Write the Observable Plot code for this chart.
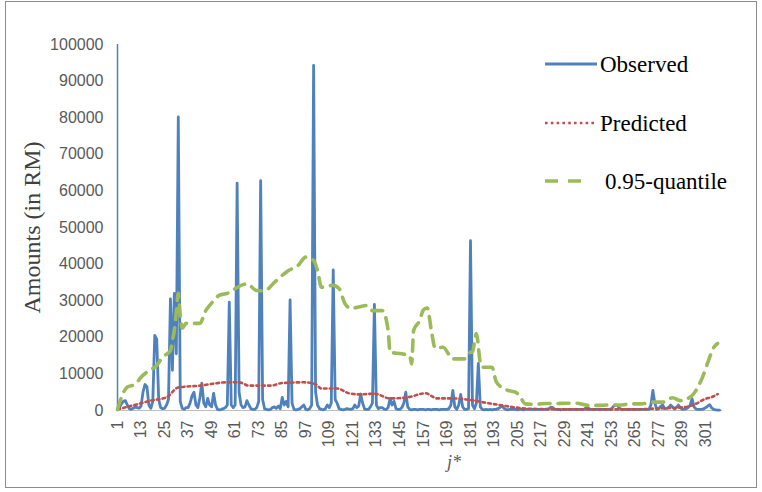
<!DOCTYPE html>
<html><head><meta charset="utf-8">
<script src="https://cdn.jsdelivr.net/npm/d3@7"></script>
<script src="https://cdn.jsdelivr.net/npm/@observablehq/plot@0.6"></script>
<style>
html,body{margin:0;padding:0;background:#fff;}
#wrap{position:relative;width:762px;height:492px;overflow:hidden;background:#fff;}
#frame{position:absolute;left:5px;top:1px;width:752px;height:487px;border:1px solid #8c8c8c;box-sizing:border-box;pointer-events:none;}
#legend{position:absolute;left:0;top:0;}
</style></head><body>
<div id="wrap"><div id="chart"></div><svg id="legend" width="762" height="492"></svg><div id="frame"></div></div>
<script>
const xTicks = [1,13,25,37,49,61,73,85,97,109,121,133,145,157,169,181,193,205,217,229,241,253,265,277,289,301];
const yTicks = [0,10000,20000,30000,40000,50000,60000,70000,80000,90000,100000];
const seriesNames = ["Observed", "Predicted", "0.95-quantile"];

// Observed, j* = 1..308
const observed = [
  200, 800, 1800, 2500, 2700, 1500, 500, 300, 600, 1000, 800, 600,
  1200, 5000, 7100, 6500, 1500, 600, 2500, 20500, 19500, 3000, 800, 500,
  600, 1500, 3000, 30500, 11000, 32000, 15500, 80200, 2500, 600, 300, 800,
  800, 2000, 4000, 5000, 1500, 800, 3500, 7500, 2000, 1000, 3300, 1500,
  1000, 4700, 1500, 300, 200, 300, 500, 800, 1500, 29600, 1500, 800,
  1500, 62100, 5000, 1500, 800, 1000, 2700, 1500, 500, 300, 300, 800,
  2500, 62800, 3000, 500, 300, 200, 300, 800, 1000, 600, 1200, 500,
  3600, 1500, 2500, 1000, 30200, 2000, 300, 200, 300, 500, 1000, 1500,
  300, 200, 500, 1500, 94300, 5000, 1500, 500, 300, 200, 500, 1500,
  800, 2000, 38400, 3000, 2000, 500, 300, 200, 300, 500, 400, 300,
  500, 1500, 800, 1200, 4500, 2000, 400, 300, 300, 1000, 2000, 29000,
  1500, 500, 800, 800, 400, 300, 800, 3300, 1500, 2500, 500, 300,
  300, 800, 2000, 5000, 1000, 300, 200, 300, 300, 200, 300, 300,
  300, 200, 300, 300, 200, 300, 300, 300, 200, 300, 300, 300,
  300, 500, 1500, 5500, 1000, 300, 1500, 4400, 1000, 300, 300, 500,
  46400, 1500, 500, 2000, 12900, 1000, 300, 200, 300, 200, 300, 200,
  300, 300, 500, 800, 1400, 600, 300, 200, 300, 300, 300, 300,
  200, 300, 300, 200, 300, 300, 300, 300, 300, 300, 300, 300,
  300, 300, 300, 300, 500, 900, 800, 300, 300, 300, 200, 300,
  300, 300, 300, 300, 300, 300, 300, 300, 300, 300, 400, 800,
  700, 300, 300, 300, 300, 300, 300, 300, 300, 300, 300, 300,
  500, 1200, 1500, 1300, 600, 300, 300, 300, 300, 300, 300, 300,
  300, 300, 300, 300, 300, 300, 300, 300, 1500, 5500, 2000, 300,
  500, 1200, 1500, 500, 600, 800, 1500, 1000, 400, 800, 1500, 800,
  300, 400, 500, 800, 1500, 3200, 1000, 400, 300, 300, 300, 500,
  800, 1200, 1600, 700, 300, 200, 100, 100
];

// Predicted (read at these j*)
const predJ   = [1, 9, 18, 26, 32, 43, 57, 63, 68, 79, 85, 96, 102, 105, 113, 119, 125, 132, 140, 149, 158, 164, 172, 179, 189, 198, 203, 210, 232, 266, 274, 290, 295, 300, 305, 307];
const predVal = [300, 1400, 2700, 3600, 6300, 6800, 7700, 7700, 6800, 6800, 7500, 7700, 7200, 6000, 6000, 4700, 4400, 4600, 3300, 3600, 4700, 3300, 3300, 3000, 2100, 1300, 900, 500, 300, 300, 500, 900, 1600, 3000, 3900, 4500];

// 0.95-quantile (read at these j*)
const qJ   = [1, 3, 6, 10, 13, 17, 21, 24, 28, 29, 30, 31, 32, 33, 34, 36, 43, 46, 48, 53, 57, 64, 67, 72, 76, 81, 88, 93, 97, 101, 103, 105, 111, 114, 117, 120, 128, 131, 136, 139, 140, 146, 150, 151, 152, 155, 157, 159, 161, 163, 167, 172, 178, 181, 182, 184, 186, 187, 192, 194, 197, 200, 204, 206, 209, 214, 219, 224, 230, 235, 241, 246, 251, 257, 263, 268, 274, 279, 284, 288, 294, 296, 299, 302, 305, 307];
const qVal = [300, 3600, 6400, 7100, 9100, 10900, 12300, 14600, 16400, 19100, 22000, 26900, 32000, 26000, 22500, 23800, 23800, 27300, 28700, 31500, 32000, 34200, 34600, 32800, 32700, 35000, 38200, 39600, 41900, 41000, 38200, 33700, 34200, 33300, 29200, 27900, 28700, 27300, 27300, 21900, 15900, 15500, 15000, 12700, 21900, 24500, 27500, 28000, 22000, 17000, 17300, 14100, 14100, 15900, 16000, 21000, 13000, 11800, 11800, 8000, 6300, 5500, 5000, 4000, 1800, 1700, 1900, 1900, 2000, 2000, 1400, 1400, 1500, 1500, 1800, 1800, 2300, 2300, 3500, 2700, 4100, 5500, 8700, 13100, 17200, 18300];

const colors = ["#4F81BD", "#C0504D", "#9BBB59"];

const obsData = observed.map((v, k) => ({j: k + 1, v}));
const predData = predJ.map((j, k) => ({j, v: predVal[k]}));
const qData = qJ.map((j, k) => ({j, v: qVal[k]}));

const chart = Plot.plot({
  width: 762, height: 492,
  marginLeft: 117, marginRight: 40, marginTop: 44, marginBottom: 82,
  x: {domain: [1, 309.5], axis: null},
  y: {domain: [0, 100000], axis: null},
  style: {fontFamily: "Liberation Sans, Arial, sans-serif", fontSize: "16px", color: "#595959", background: "transparent"},
  marks: [
    Plot.axisY({ticks: yTicks, tickSize: 0, tickPadding: 14, label: null, tickFormat: d => String(d), fontSize: 16}),
    Plot.axisX({ticks: xTicks, tickSize: 0, tickPadding: 10, tickRotate: -90, label: null, tickFormat: d => String(d), fontSize: 16}),
    Plot.ruleY([0], {stroke: "#BFBFBF", strokeWidth: 1}),
    Plot.ruleX([1], {stroke: colors[0], strokeWidth: 1.5}),
    Plot.lineY(obsData, {x: "j", y: "v", stroke: colors[0], strokeWidth: 2.8, strokeLinejoin: "round"}),
    Plot.lineY(predData, {x: "j", y: "v", stroke: colors[1], strokeWidth: 2.6, strokeDasharray: "2.6,3.2", curve: "monotone-x"}),
    Plot.lineY(qData, {x: "j", y: "v", stroke: colors[2], strokeWidth: 3.6, strokeDasharray: "11,8", curve: "monotone-x"}),
    Plot.text(["Amounts (in RM)"], {frameAnchor: "left", textAnchor: "middle", dx: -85, rotate: -90, fontSize: 24, fontFamily: "Liberation Serif, Times New Roman, serif", fill: "#404040"}),
    Plot.text(["j*"], {frameAnchor: "bottom", dx: 34, dy: 57, fontSize: 18, fontStyle: "italic", fontFamily: "Liberation Serif, Times New Roman, serif", fill: "#595959"})
  ]
});
document.getElementById("chart").appendChild(chart);

// Legend
const lg = d3.select("#legend");
const rows = [
  {y: 64, x1: 545, x2: 597, tx: 600, dash: null, w: 2.8},
  {y: 123, x1: 545, x2: 595, tx: 600, dash: "2.6,3.2", w: 2.6},
  {y: 181, x1: 545, x2: 581, tx: 605, dash: "13,10", w: 3.6}
];
rows.forEach((r, k) => {
  lg.append("line").attr("x1", r.x1).attr("x2", r.x2).attr("y1", r.y).attr("y2", r.y)
    .attr("stroke", colors[k]).attr("stroke-width", r.w).attr("stroke-dasharray", r.dash);
  lg.append("text").attr("x", r.tx).attr("y", r.y).attr("dy", "0.35em")
    .attr("font-family", "Liberation Serif, Times New Roman, serif").attr("font-size", 23)
    .attr("fill", "#000").text(seriesNames[k]);
});
</script>
</body></html>
